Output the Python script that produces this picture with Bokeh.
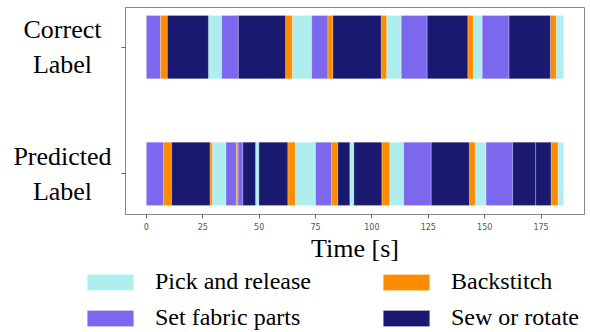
from bokeh.plotting import figure
from bokeh.models import ColumnDataSource, Legend, LegendItem, FixedTicker, Range1d
from bokeh.layouts import column, row
from bokeh.core.properties import value
from bokeh.embed import file_html
from bokeh.resources import INLINE

# ---- data ----
row_positions = [1, 0]
row_labels = ["Correct\nLabel", "Predicted\nLabel"]
categories = ["Pick and release", "Set fabric parts", "Backstitch", "Sew or rotate"]
colors = {"Pick and release": "#AFEEEE", "Set fabric parts": "#7B68EE",
          "Backstitch": "#FF8C00", "Sew or rotate": "#191970"}
total_time = 185.0

correct_starts = [0, 6.3, 9.3, 27.5, 33.4, 40.8, 61.7, 64.7, 73.3, 80.5, 82.7,
                  104.1, 106.5, 113.0, 124.5, 142.5, 144.9, 148.9, 160.8, 179.1, 181.7]
correct_acts = ["Set fabric parts", "Backstitch", "Sew or rotate", "Pick and release",
                "Set fabric parts", "Sew or rotate", "Backstitch", "Pick and release",
                "Set fabric parts", "Backstitch", "Sew or rotate", "Backstitch",
                "Pick and release", "Set fabric parts", "Sew or rotate", "Backstitch",
                "Pick and release", "Set fabric parts", "Sew or rotate", "Backstitch",
                "Pick and release"]

predicted_starts = [0, 7.7, 11.2, 28.2, 29.2, 35.3, 39.9, 40.6, 42.8, 48.4, 49.9,
                    62.7, 66.0, 75.0, 82.2, 84.9, 90.2, 92.0, 104.4, 107.9, 114.1,
                    126.3, 143.2, 145.8, 150.6, 162.4, 172.6, 179.4, 182.5]
predicted_acts = ["Set fabric parts", "Backstitch", "Sew or rotate", "Backstitch",
                  "Pick and release", "Set fabric parts", "Backstitch", "Set fabric parts",
                  "Sew or rotate", "Pick and release", "Sew or rotate", "Backstitch",
                  "Pick and release", "Set fabric parts", "Backstitch", "Sew or rotate",
                  "Pick and release", "Sew or rotate", "Backstitch", "Pick and release",
                  "Set fabric parts", "Sew or rotate", "Backstitch", "Pick and release",
                  "Set fabric parts", "Sew or rotate", "Sew or rotate", "Backstitch",
                  "Pick and release"]

x_ticks = [0, 25, 50, 75, 100, 125, 150, 175]

TOP_H = 266
LEG_H = 332 - TOP_H
LAB_W = 118
BORDER_TOP = 7
BORDER_BOTTOM = 52

# ---- main figure ----
pad = 0.05 * total_time
p = figure(width=590 - LAB_W, height=TOP_H, x_range=(-pad, total_time + pad),
           y_range=(-0.3215, 1.3135), output_backend="svg", toolbar_location=None,
           min_border_left=7, min_border_right=6, min_border_top=BORDER_TOP,
           min_border_bottom=BORDER_BOTTOM)
p.grid.visible = False
p.outline_line_color = "#888888"
p.outline_line_width = 1

def segments(starts, acts, r):
    ends = starts[1:] + [total_time]
    return [(s, e, a, r) for s, e, a in zip(starts, ends, acts)]

segs = segments(predicted_starts, predicted_acts, 0) + segments(correct_starts, correct_acts, 1)

sources = {}
bar_style = dict(line_color="white", line_alpha=0.3, line_width=0.8)
for cat in categories:
    sel = [s for s in segs if s[2] == cat]
    sources[cat] = ColumnDataSource(dict(
        left=[s[0] for s in sel], right=[s[1] for s in sel],
        bottom=[s[3] - 0.25 for s in sel], top=[s[3] + 0.25 for s in sel]))
    p.quad(left="left", right="right", bottom="bottom", top="top",
           source=sources[cat], fill_color=colors[cat], **bar_style)

for ax in (p.xaxis[0], p.yaxis[0]):
    ax.axis_line_color = "#888888"
    ax.major_tick_line_color = "#666666"
    ax.minor_tick_line_color = None
    ax.major_tick_in = 0
    ax.major_tick_out = 4
p.xaxis.ticker = FixedTicker(ticks=x_ticks)
p.xaxis.major_label_text_font = "DejaVu Sans"
p.xaxis.major_label_text_font_size = "8px"
p.xaxis.major_label_text_color = "#555555"
p.xaxis.major_label_standoff = 4
p.xaxis.axis_label = "Time [s]"
p.xaxis.axis_label_text_font = "Liberation Serif"
p.xaxis.axis_label_text_font_size = "26px"
p.xaxis.axis_label_text_font_style = "normal"
p.xaxis.axis_label_text_color = "black"
p.xaxis.axis_label_standoff = 1

p.yaxis.ticker = FixedTicker(ticks=row_positions)
p.yaxis.major_label_overrides = {1: "", 0: ""}
p.yaxis.major_label_standoff = 0

# ---- row label panel (shares the y range) ----
pl = figure(width=LAB_W, height=TOP_H, x_range=Range1d(0, LAB_W), y_range=p.y_range,
            output_backend="svg", toolbar_location=None,
            min_border_left=0, min_border_right=0, min_border_top=BORDER_TOP,
            min_border_bottom=BORDER_BOTTOM)
pl.axis.visible = False
pl.grid.visible = False
pl.outline_line_color = None
pl.text(x=[62] * len(row_labels), y=row_positions, text=row_labels,
        text_align="center", text_baseline="middle",
        text_font=value("Liberation Serif"), text_font_size=value("26px"),
        text_color="black", text_line_height=1.2)

# ---- legend panel (same sources, viewed outside their extent) ----
pg = figure(width=590, height=LEG_H, x_range=Range1d(-3, -2), y_range=Range1d(-3, -2),
            output_backend="svg", toolbar_location=None,
            min_border_left=0, min_border_right=0, min_border_top=0, min_border_bottom=0)
pg.axis.visible = False
pg.grid.visible = False
pg.outline_line_color = None
swatch = {}
for cat in categories:
    swatch[cat] = pg.quad(left="left", right="right", bottom="bottom", top="top",
                          source=sources[cat], fill_color=colors[cat], **bar_style)

def make_legend(cats, loc):
    leg = Legend(items=[LegendItem(label=c, renderers=[swatch[c]]) for c in cats],
                 location=loc, orientation="vertical",
                 glyph_width=58, glyph_height=20, label_standoff=16, spacing=9,
                 padding=0, margin=0, border_line_alpha=0, background_fill_alpha=0,
                 label_text_font="Liberation Serif", label_text_font_size="24px",
                 label_text_color="black")
    pg.add_layout(leg, "center")

make_legend(["Pick and release", "Set fabric parts"], (81, 1))
make_legend(["Backstitch", "Sew or rotate"], (377, 1))

layout = column(row(pl, p), pg)
open("out.html", "w").write(file_html(layout, INLINE))
